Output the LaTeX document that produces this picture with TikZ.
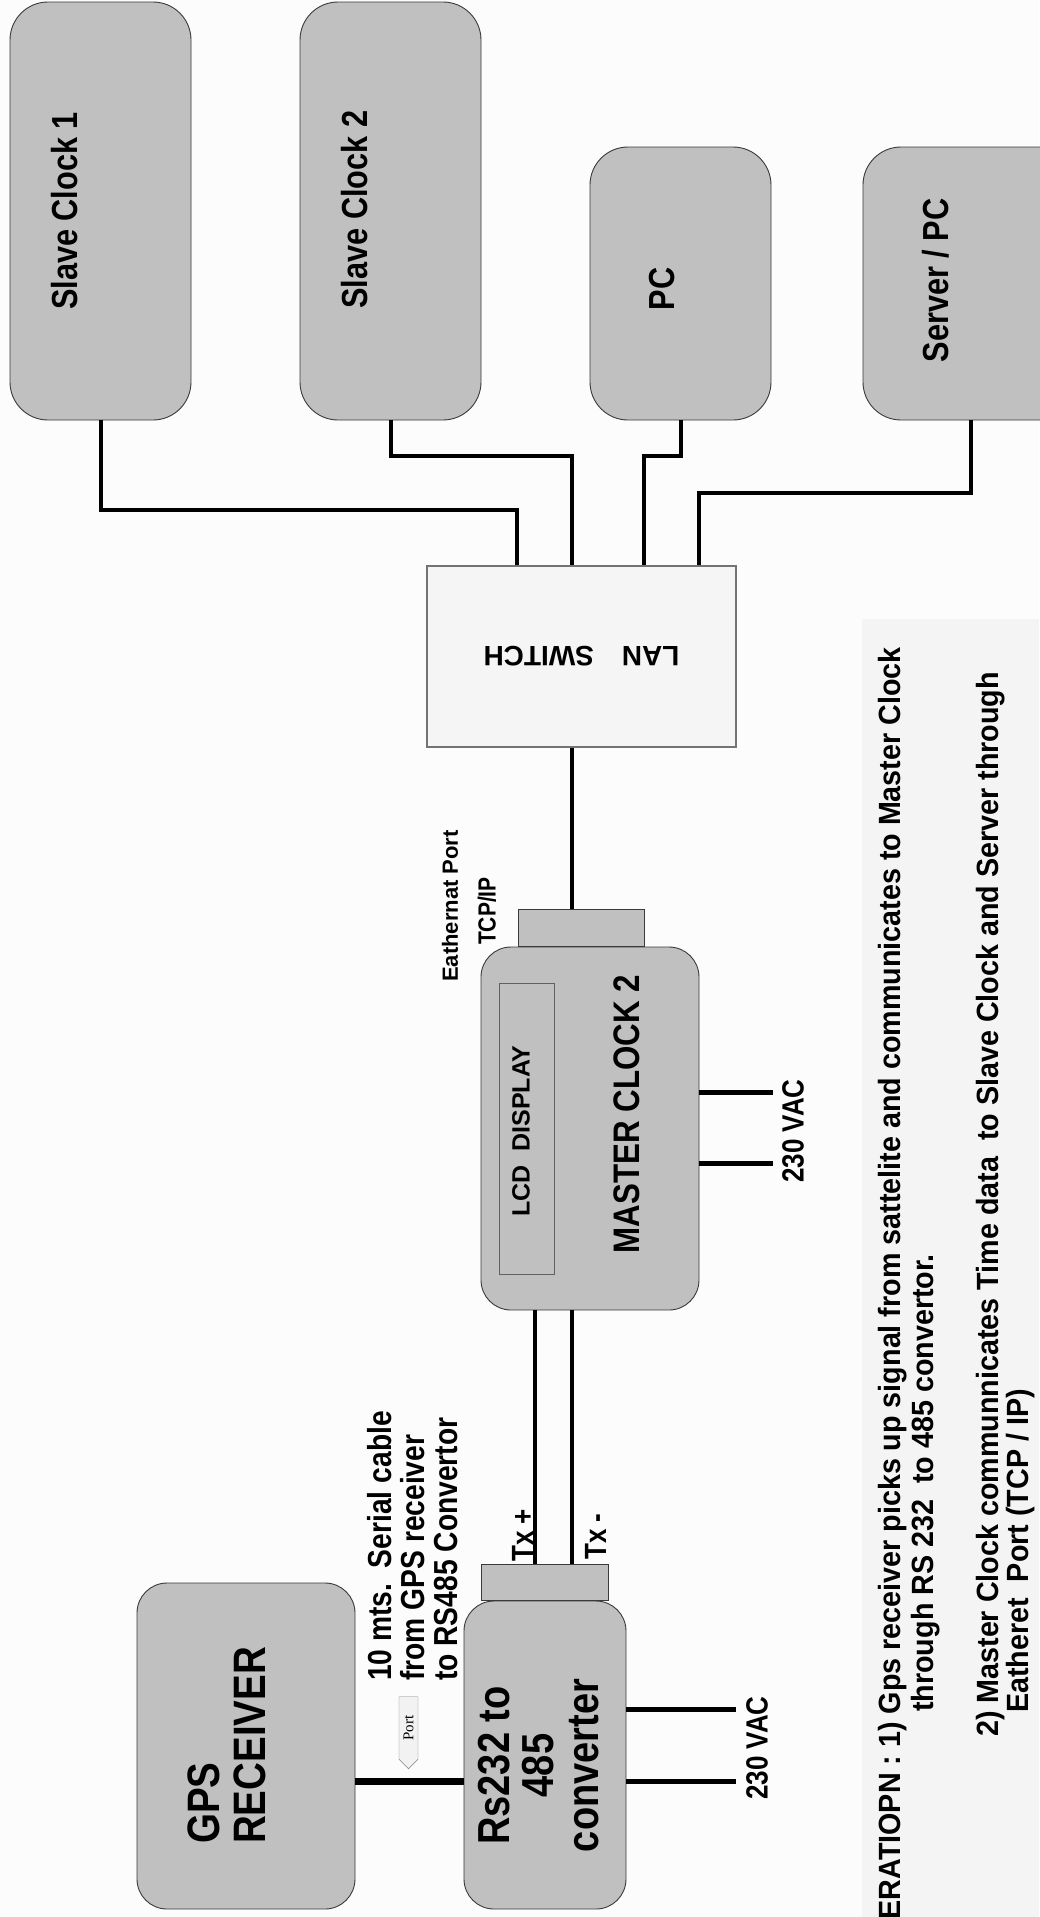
\documentclass[tikz,border=0pt]{standalone}
\usepackage{fontspec}
\setmainfont{Liberation Sans}
\newfontfamily\portfont{Liberation Serif}
\usetikzlibrary{positioning,shapes.symbols}

\definecolor{boxgray}{HTML}{C0C0C0}
\definecolor{switchgray}{HTML}{F5F5F5}
\definecolor{panelgray}{HTML}{F4F4F4}
\definecolor{paper}{HTML}{FCFCFC}
\definecolor{edge}{HTML}{3A3A3A}

\newcommand{\fsz}[1]{\fontsize{#1}{#1}\selectfont}

\begin{document}
\begin{tikzpicture}[
    x=1pt, y=-1pt,
    box/.style={
        draw=edge,
        fill=boxgray,
        rounded corners=#1,
        line width=0.9pt
    },
    box/.default=30pt,
    plug/.style={
        draw=edge,
        fill=boxgray,
        line width=0.9pt
    },
    wire/.style={line width=4pt},
    power/.style={line width=5pt},
    cable/.style={line width=7pt},
    lbl/.style={rotate=90, transform shape, yscale=1.18, inner sep=0pt, font=\bfseries\fsz{#1}},
    flat/.style={rotate=90, inner sep=0pt, font=\bfseries\fsz{#1}},
    note/.style={rotate=90, transform shape, yscale=1.07, inner sep=0pt, font=\bfseries\fsz{28.7}}
]
    %% Papier und Textfeld
    \fill[paper] (0,0) rectangle (1039,1917);
    \useasboundingbox (0,0) rectangle (1039,1917);
    \fill[panelgray] (862,619) rectangle (1039,1917);

    %% Nebenuhren und Rechner
    \node[box=38pt, minimum width=181pt, minimum height=418pt] (sc1) at (100.5,211) {};
    \node[box=38pt, minimum width=181pt, minimum height=418pt] (sc2) at (390.5,211) {};
    \node[box=38pt, minimum width=181pt, minimum height=273pt] (pc) at (680.5,283.5) {};
    \node[box=38pt, minimum width=216pt, minimum height=273pt] (server) at (971,283.5) {};
    \node[lbl=30.7] (sc1-txt) at (65,211) {Slave Clock 1};
    \node[lbl=30.7] (sc2-txt) at (354.5,209.5) {Slave Clock 2};
    \node[lbl=30.7] (pc-txt) at (662.5,289) {PC};
    \node[lbl=30.7] (server-txt) at (935.5,280.5) {Server / PC};

    %% LAN Switch
    \node[draw=gray!90!black, fill=switchgray, line width=1.2pt,
          minimum width=309pt, minimum height=181pt, font=\bfseries\fsz{28}]
          (lan) at (581.5,656.5) {\rotatebox{180}{LAN\hspace{1em}SWITCH}};

    %% Hauptuhr
    \node[box, minimum width=218pt, minimum height=363pt] (master) at (590,1128.5) {};
    \node[plug, minimum width=126pt, minimum height=37pt, above=0pt of master, xshift=-9pt] (mport) {};
    \node[draw=edge!80, line width=1pt, minimum width=55pt, minimum height=291pt] (lcd) at (526.5,1128.5) {};
    \node[flat=25] (lcd-txt) at (521,1131) {LCD\ \ DISPLAY};
    \node[lbl=31.3] (master-txt) at (627,1114) {MASTER CLOCK 2};
    \node[flat=22] (eth-txt) at (450,906) {Eathernat Port};
    \node[lbl=21] (tcp-txt) at (487,911) {TCP/IP};
    \node[lbl=26] (vac1-txt) at (793,1131) {230 VAC};

    %% Umsetzer und GPS
    \node[box, minimum width=162pt, minimum height=308pt] (conv) at (545,1755) {};
    \node[plug, minimum width=127pt, minimum height=36pt, above=0pt of conv] (cport) {};
    \node[lbl=38, align=center] (conv-txt) at (538.5,1765.5) {Rs232 to\\485\\converter};
    \node[box, minimum width=218pt, minimum height=326pt] (gps) at (246,1746) {};
    \node[lbl=38.5, align=left] (gps-txt) at (227,1745.5) {GPS\\RECEIVER};
    \node[lbl=26, anchor=base west] (txp) at (533,1562) {Tx +};
    \node[lbl=26, anchor=base west] (txm) at (606,1560) {Tx -};
    \node[lbl=26] (vac2-txt) at (757,1748) {230 VAC};
    \node[lbl=28.2, align=left] (cable-txt) at (412.5,1546) {10 mts.\ \ Serial cable\\from GPS receiver\\to RS485 Convertor};
    \node[draw=gray, fill=gray!10, shape=signal, signal to=west, signal pointer angle=90,
          rotate=90, minimum width=72pt, minimum height=19pt, inner sep=1pt,
          font=\portfont\fsz{15}] (tag) at (408.5,1728) {Port};

    %% Betriebsbeschreibung
    \node[note, anchor=base east] (op1) at (900,647) {OPERATIOPN : 1) Gps receiver picks up signal from sattelite and communicates to Master Clock};
    \node[note, anchor=base west] (op2) at (933,1712) {through RS 232\ \ to 485 convertor.};
    \node[note, anchor=base west] (op3) at (998,1737) {2) Master Clock communnicates Time data\ \ to Slave Clock and Server through};
    \node[note, anchor=base west] (op4) at (1028,1713) {Eatheret\ \ Port (TCP / IP)};

    %% Leitungen
    \draw[wire] (sc1.south) -- ++(0,90) -| ([xshift=-64.5pt]lan.north);
    \draw[wire] (sc2.south) -- ++(0,36) -| ([xshift=-9.5pt]lan.north);
    \draw[wire] (pc.south) -- ++(0,36) -| ([xshift=62.5pt]lan.north);
    \draw[wire] (server.south) -- ++(0,73) -| ([xshift=117.5pt]lan.north);
    \draw[wire] ([xshift=-9.5pt]lan.south) -- ([xshift=-9.5pt]lan.south |- mport.north);
    \draw[wire] ([xshift=-55pt]master.south) -- ([xshift=-55pt]master.south |- cport.north);
    \draw[wire] ([xshift=-18pt]master.south) -- ([xshift=-18pt]master.south |- cport.north);
    \draw[cable] ([yshift=-35pt]gps.east) -- ([yshift=-35pt]gps.east -| conv.west);
    \draw[power] (master.east) ++(0,-36.5) -- ++(74,0);
    \draw[power] (master.east) ++(0,34.5) -- ++(74,0);
    \draw[power] (conv.east) ++(0,-46) -- ++(110,0);
    \draw[power] (conv.east) ++(0,26) -- ++(110,0);
\end{tikzpicture}
\end{document}
